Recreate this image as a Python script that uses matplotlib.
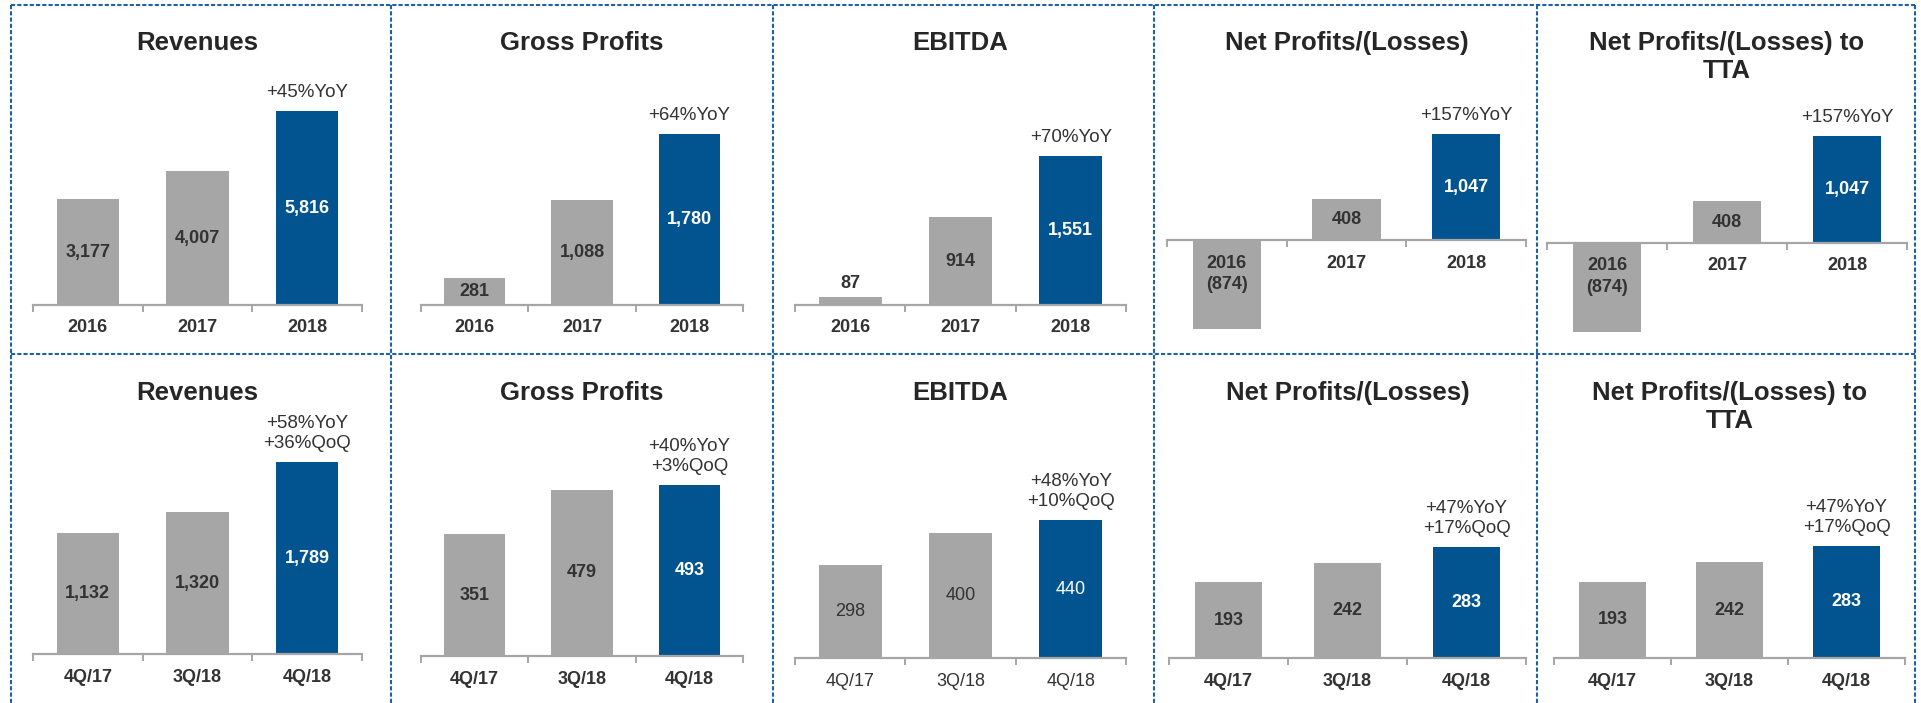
import matplotlib
matplotlib.use('Agg')
from matplotlib import pyplot as plt
from matplotlib.lines import Line2D

plt.rcParams['font.family'] = ['Liberation Sans', 'DejaVu Sans']

# canvas size in pixels (dpi 100)
W, H = 1921, 703

# ---- data ----
years = ['2016', '2017', '2018']
quarters = ['4Q/17', '3Q/18', '4Q/18']

titles = ['Revenues', 'Gross Profits', 'EBITDA', 'Net Profits/(Losses)',
          'Net Profits/(Losses) to\nTTA']

revenues_year = [3177, 4007, 5816]
gross_year = [281, 1088, 1780]
ebitda_year = [87, 914, 1551]
net_year = [-874, 408, 1047]
net_tta_year = [-874, 408, 1047]
growth_year = ['+45%YoY', '+64%YoY', '+70%YoY', '+157%YoY', '+157%YoY']

revenues_q = [1132, 1320, 1789]
gross_q = [351, 479, 493]
ebitda_q = [298, 400, 440]
net_q = [193, 242, 283]
net_tta_q = [193, 242, 283]
growth_q = ['+58%YoY\n+36%QoQ', '+40%YoY\n+3%QoQ', '+48%YoY\n+10%QoQ',
            '+47%YoY\n+17%QoQ', '+47%YoY\n+17%QoQ']

# ---- style ----
GRAY = '#A6A6A6'
BLUE = '#01548F'
TEXT = '#333333'
TITLE = '#262626'
AXIS = '#A6A6A6'
BORDER = '#1F62A3'

fig = plt.figure(figsize=(W / 100, H / 100), dpi=100)


def fmt(v):
    s = '{:,}'.format(abs(v))
    return '(' + s + ')' if v < 0 else s


# draws one little bar chart; x0/x1 = axis line span, base = zero line,
# top = pixel row of the tallest bar, bottom = pixel row of the lowest bar
def panel(x0, x1, base, top, bottom, cats, vals, title, title_top, growth, bold=True):
    lo = min(0, min(vals))
    hi = max(vals)
    ybot = bottom if lo < 0 else base
    ax = fig.add_axes([x0 / W, 1 - ybot / H, (x1 - x0) / W, (ybot - top) / H])
    ax.set_xlim(-0.5, 2.5)
    ax.set_ylim(lo, hi)
    ax.patch.set_visible(False)
    ax.bar(range(3), vals, width=0.57, color=[GRAY, GRAY, BLUE], zorder=1)

    for s in ['top', 'left', 'right']:
        ax.spines[s].set_visible(False)
    ax.spines['bottom'].set_position(('data', 0))
    ax.spines['bottom'].set_color(AXIS)
    ax.spines['bottom'].set_linewidth(1.6)
    ax.set_yticks([])
    ax.set_xticks([0, 1, 2])
    ax.set_xticklabels([])
    ax.set_xticks([-0.5, 0.5, 1.5, 2.5], minor=True)
    ax.tick_params(axis='x', which='major', length=0)
    ax.tick_params(axis='x', which='minor', length=5, width=1.4, color=AXIS, direction='out')

    weight = 'bold' if bold else 'normal'
    pxu = (base - top) / hi  # pixels per unit
    for i, (c, v) in enumerate(zip(cats, vals)):
        ax.annotate(c, xy=(i, 0), xytext=(0, -23), textcoords='offset pixels',
                    ha='center', va='center', fontsize=13, fontweight=weight, color=TEXT)
        col = 'white' if i == 2 else TEXT
        if abs(v) * pxu < 20:
            ax.annotate(fmt(v), xy=(i, v), xytext=(0, 13), textcoords='offset pixels',
                        ha='center', va='center', fontsize=13, fontweight=weight, color=TEXT)
        else:
            ax.text(i, v / 2, fmt(v), ha='center', va='center', fontsize=13,
                    fontweight=weight, color=col, zorder=3)

    ax.annotate(growth, xy=(2, vals[2]), xytext=(0, 10), textcoords='offset pixels',
                ha='center', va='bottom', fontsize=13.5, color=TEXT, linespacing=1.2)

    fig.text((x0 + x1) / 2 / W, 1 - title_top / H, title, ha='center', va='top',
             fontsize=18.5, fontweight='bold', color=TITLE, linespacing=1.2)


year_vals = [revenues_year, gross_year, ebitda_year, net_year, net_tta_year]
q_vals = [revenues_q, gross_q, ebitda_q, net_q, net_tta_q]

# pixel layout: (x0, x1, base, top, bottom)
top_row = [(33, 362, 305, 111, None), (421, 743, 305, 134, None), (795, 1126, 305, 156, None),
           (1167, 1526, 240, 134, 329), (1547, 1907, 242, 136, 332)]
bottom_row = [(33, 362, 654, 462, None), (421, 743, 656, 485, None), (795, 1126, 658, 520, None),
              (1169, 1526, 658, 547, None), (1554, 1905, 658, 546, None)]

for k in range(5):
    x0, x1, base, top, bottom = top_row[k]
    panel(x0, x1, base, top, bottom, years, year_vals[k], titles[k], 31, growth_year[k])
    x0, x1, base, top, bottom = bottom_row[k]
    panel(x0, x1, base, top, bottom, quarters, q_vals[k], titles[k], 381, growth_q[k],
          bold=(k != 2))

# dashed grid around the panels
for x in [11, 391, 773, 1154, 1537, 1915]:
    fig.add_artist(Line2D([x / W, x / W], [1 - 5 / H, 0], transform=fig.transFigure,
                          color=BORDER, lw=1.5, linestyle=(0, (2, 1))))
for y in [5, 354]:
    fig.add_artist(Line2D([11 / W, 1915 / W], [1 - y / H, 1 - y / H], transform=fig.transFigure,
                          color=BORDER, lw=1.5, linestyle=(0, (2, 1))))

fig.savefig('out.png', dpi=100, facecolor='white')
